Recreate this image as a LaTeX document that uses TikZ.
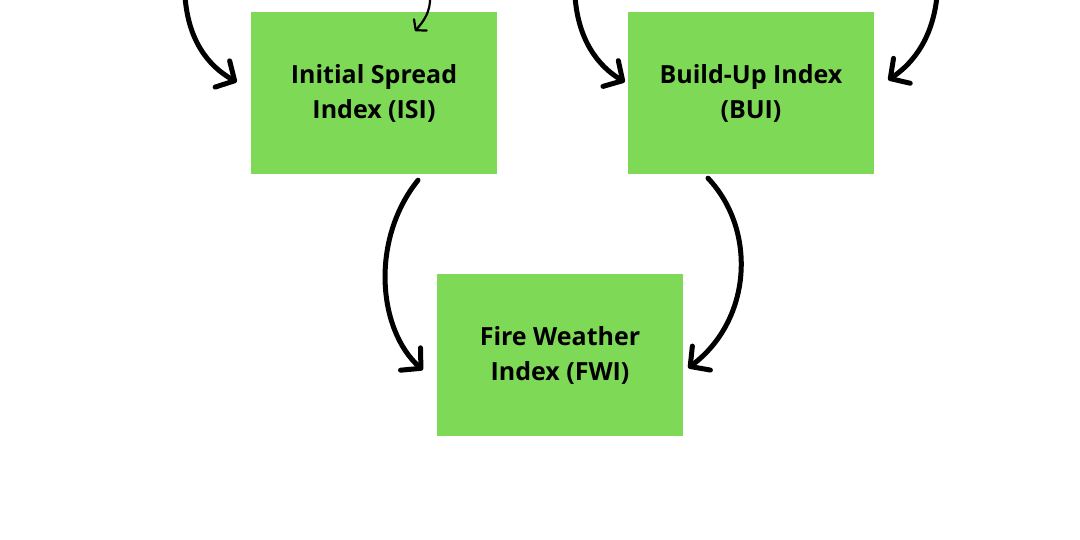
\documentclass[tikz,border=0pt]{standalone}
\usepackage{fontspec}
\setmainfont{Open Sans}
\usetikzlibrary{arrows.meta}
\definecolor{boxgreen}{HTML}{7ED957}
\tikzset{
  idxbox/.style={fill=boxgreen, minimum width=246pt, minimum height=162pt, inner sep=0pt,
    align=center, font=\fontsize{25}{35}\selectfont\bfseries, text=black},
  flow/.style={line width=5pt, line cap=round, line join=round,
    -{Straight Barb[length=14pt,width=30pt,line cap=round,line join=round]}},
  thinflow/.style={line width=2.2pt, line cap=round, line join=round,
    -{Straight Barb[length=7pt,width=17pt,line cap=round,line join=round]}}
}
\begin{document}
\begin{tikzpicture}[x=1pt,y=-1pt]
\useasboundingbox (0,0) rectangle (1080,540);
\fill[white] (0,0) rectangle (1080,540);
\node[idxbox] (isi) at (374,93) {\raisebox{-2pt}{Initial Spread}\\\raisebox{-2pt}{Index (ISI)}};
\node[idxbox] (bui) at (751,93) {\raisebox{-2pt}{Build-Up Index}\\\raisebox{-2pt}{(BUI)}};
\node[idxbox] (fwi) at (560,355) {\raisebox{-2pt}{Fire Weather}\\\raisebox{-2pt}{Index (FWI)}};
\coordinate (s1) at (185,-4);
\coordinate (s2) at (430,-4);
\coordinate (s3) at (575,-4);
\coordinate (s4) at (937,-4);
\draw[flow] (s1) .. controls (188,40) and (208,66) .. ([xshift=-14pt,yshift=11pt]isi.west);
\draw[thinflow] (s2) .. controls (431,12) and (423,22) .. ([xshift=41pt,yshift=62pt]isi.center);
\draw[flow] (s3) .. controls (578,40) and (598,66) .. ([xshift=-3pt,yshift=11pt]bui.west);
\draw[flow] (s4) .. controls (933,36) and (915,62) .. ([xshift=14pt,yshift=13pt]bui.east);
\draw[flow] ([xshift=44pt,yshift=-6pt]isi.south) .. controls (370,240) and (378,330) .. ([xshift=-14pt,yshift=-15pt]fwi.west);
\draw[flow] ([xshift=-43pt,yshift=-4pt]bui.south) .. controls (757,230) and (752,320) .. ([xshift=5pt,yshift=-13pt]fwi.east);
\end{tikzpicture}
\end{document}
